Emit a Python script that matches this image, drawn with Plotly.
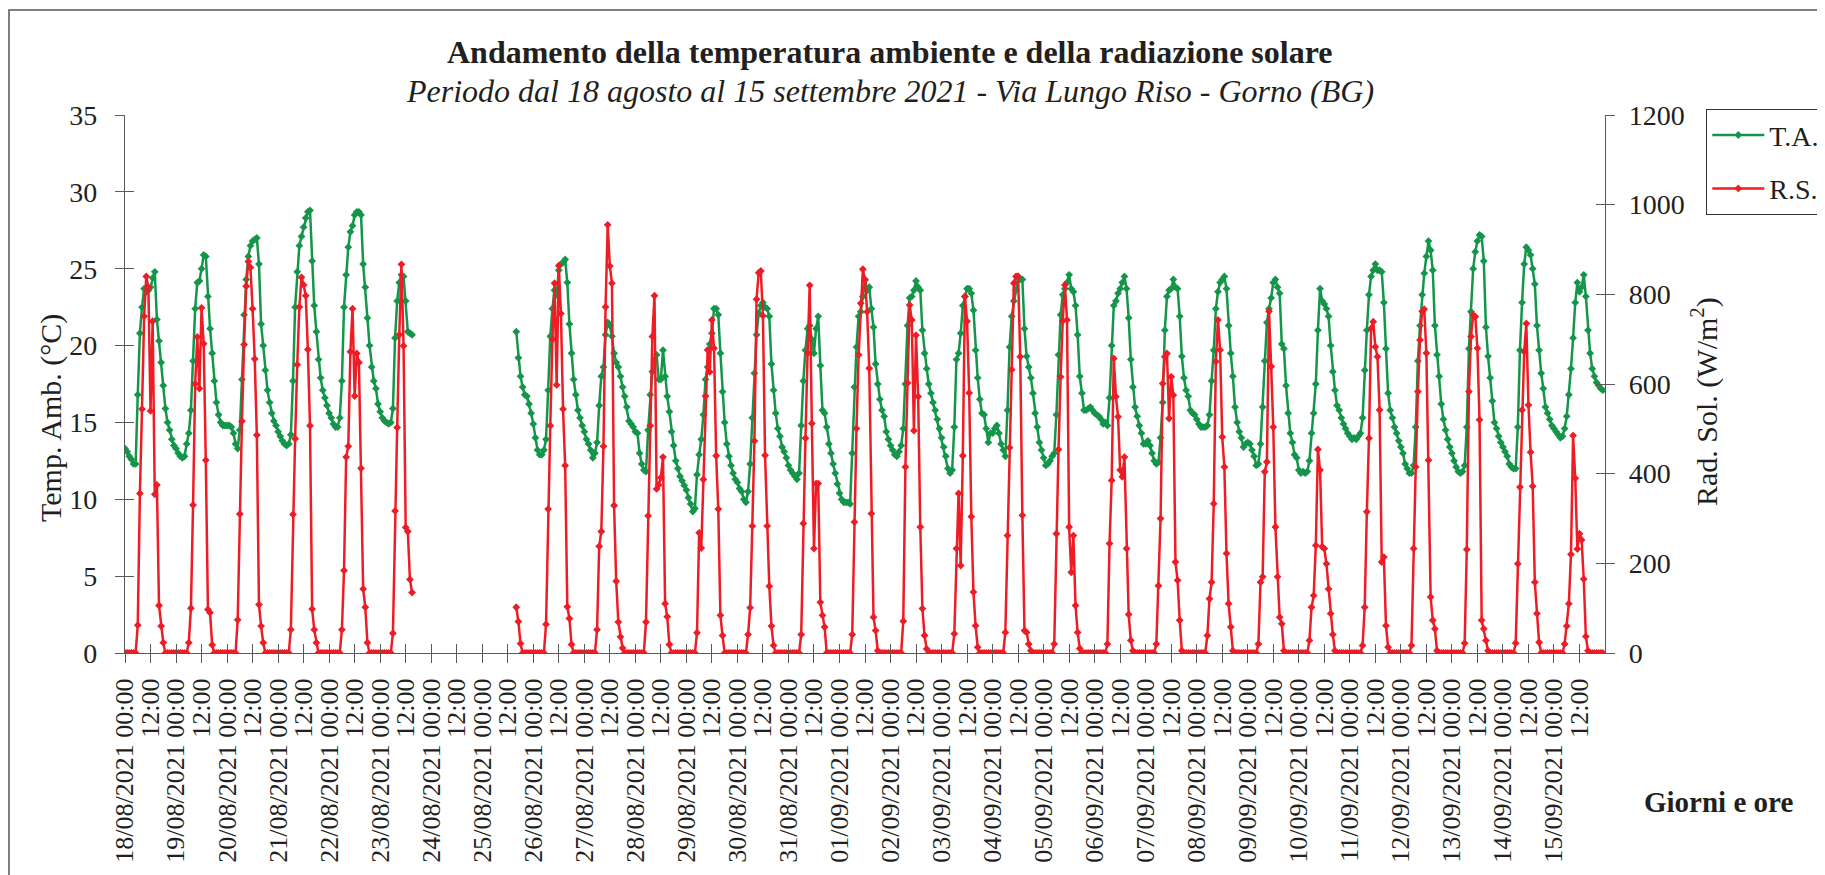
import pandas as pd
import plotly.graph_objects as go

# ---------------- DATA (hourly values) ----------------
# T.A. = temperatura ambiente (°C), R.S. = radiazione solare (W/m2)
t_0818 = [13.3, 13.1, 12.8, 12.6, 12.3, 12.3, 16.8, 20.8, 22.5, 23.7, 23.5, 23.6, 23.8, 24.4, 24.8, 21.7, 20.3, 18.9, 17.4, 15.9, 15.0, 14.5, 13.9, 13.5]
r_0818 = [0, 0, 0, 0, 0, 0, 62, 356, 544, 751, 840, 815, 540, 740, 354, 375, 106, 60, 23, 0, 0, 0, 0, 0]
t_0819 = [13.3, 13.0, 12.8, 12.7, 12.8, 13.6, 14.3, 15.8, 19.0, 22.4, 24.1, 24.2, 25.0, 25.9, 25.8, 23.2, 21.1, 19.5, 17.7, 16.3, 15.5, 15.0, 14.8, 14.8]
r_0819 = [0, 0, 0, 0, 0, 0, 23, 100, 330, 600, 705, 590, 770, 690, 430, 97, 90, 18, 0, 0, 0, 0, 0, 0]
t_0820 = [14.8, 14.8, 14.7, 14.3, 13.6, 13.3, 14.5, 17.8, 22.0, 24.3, 25.8, 26.5, 26.8, 26.9, 27.0, 25.3, 21.4, 20.0, 18.4, 17.1, 16.3, 15.6, 15.1, 14.8]
r_0820 = [0, 0, 0, 0, 0, 74, 310, 517, 688, 818, 873, 860, 768, 656, 486, 108, 60, 23, 0, 0, 0, 0, 0, 0]
t_0821 = [14.4, 14.1, 13.8, 13.6, 13.5, 13.6, 14.2, 17.7, 22.5, 24.8, 26.5, 27.1, 27.7, 28.3, 28.7, 28.8, 25.5, 22.6, 20.9, 19.1, 17.9, 17.1, 16.6, 16.1]
r_0821 = [0, 0, 0, 0, 0, 0, 52, 309, 478, 643, 772, 838, 821, 797, 677, 507, 98, 52, 23, 0, 0, 0, 0, 0]
t_0822 = [15.6, 15.3, 14.9, 14.7, 14.7, 15.3, 17.7, 22.5, 24.6, 26.4, 27.4, 27.8, 28.5, 28.7, 28.7, 28.5, 25.3, 23.8, 21.8, 20.0, 18.6, 17.7, 17.2, 16.2]
r_0822 = [0, 0, 0, 0, 0, 0, 52, 184, 437, 461, 672, 768, 573, 668, 648, 412, 143, 102, 23, 0, 0, 0, 0, 0]
t_0823 = [15.7, 15.3, 15.1, 15.0, 14.9, 15.0, 15.9, 20.5, 22.9, 24.1, 24.6, 24.5, 22.9, 20.9, 20.8, 20.7]   # 00:00-15:00
r_0823 = [0, 0, 0, 0, 0, 0, 44, 317, 503, 710, 867, 685, 280, 271, 164, 135]
t_0825 = [20.9, 19.2, 18.0, 17.3, 16.8, 16.7, 16.2, 15.6]   # 16:00-23:00
r_0825 = [102, 70, 21, 0, 0, 0, 0, 0]
t_0826 = [14.9, 14.0, 13.2, 12.9, 12.9, 13.2, 13.9, 17.1, 20.6, 22.4, 23.6, 23.3, 24.9, 25.3, 25.4, 25.6, 24.1, 21.4, 19.5, 17.8, 16.8, 15.8, 15.3, 14.8]
r_0826 = [0, 0, 0, 0, 0, 0, 64, 321, 507, 700, 825, 598, 864, 757, 544, 418, 103, 77, 19, 0, 0, 0, 0, 0]
t_0827 = [14.4, 13.9, 13.6, 13.2, 12.7, 13.0, 13.7, 16.1, 18.0, 18.6, 20.7, 21.5, 21.3, 20.6, 19.5, 18.9, 18.6, 18.0, 17.3, 16.7, 16.0, 15.1, 14.9, 14.7]
r_0827 = [0, 0, 0, 0, 0, 0, 52, 238, 271, 461, 772, 955, 863, 825, 329, 160, 69, 36, 11, 0, 0, 0, 0, 0]
t_0828 = [14.4, 14.3, 13.0, 12.3, 11.9, 11.8, 14.5, 16.8, 18.3, 19.1, 19.4, 17.8, 17.8, 19.7, 18.0, 16.7, 15.7, 14.4, 13.5, 12.5, 12.0, 11.5, 11.2, 10.9]
r_0828 = [0, 0, 0, 0, 0, 69, 306, 507, 706, 797, 366, 375, 391, 437, 110, 81, 19, 0, 0, 0, 0, 0, 0, 0]
t_0829 = [10.6, 10.1, 9.7, 9.2, 9.4, 11.6, 12.9, 13.9, 15.5, 17.8, 18.6, 20.1, 20.8, 22.4, 22.4, 22.0, 19.5, 17.0, 15.0, 13.6, 12.8, 12.2, 11.7, 11.3]
r_0829 = [0, 0, 0, 0, 0, 45, 268, 234, 387, 573, 676, 627, 743, 680, 440, 321, 84, 39, 0, 0, 0, 0, 0, 0]
t_0830 = [11.1, 10.7, 10.5, 10.0, 9.8, 10.5, 12.3, 15.3, 18.2, 20.7, 22.1, 22.6, 22.8, 22.5, 22.4, 21.9, 18.8, 17.1, 15.6, 14.6, 14.1, 13.4, 13.1, 12.7]
r_0830 = [0, 0, 0, 0, 0, 41, 101, 283, 473, 789, 848, 852, 752, 441, 283, 149, 60, 17, 0, 0, 0, 0, 0, 0]
t_0831 = [12.2, 11.9, 11.7, 11.5, 11.3, 11.7, 14.8, 17.7, 19.7, 21.1, 21.3, 20.4, 19.5, 21.1, 21.9, 18.7, 15.8, 15.6, 14.7, 13.6, 13.0, 12.3, 11.7, 11.0]
r_0831 = [0, 0, 0, 0, 0, 0, 41, 289, 479, 669, 820, 512, 233, 378, 378, 113, 84, 58, 0, 0, 0, 0, 0, 0]
t_0901 = [10.4, 10.0, 9.8, 9.8, 9.8, 9.7, 13.0, 17.3, 19.9, 21.9, 22.2, 23.2, 24.3, 23.6, 23.8, 22.4, 21.2, 18.8, 17.5, 16.5, 15.8, 15.4, 14.4, 13.9]
r_0901 = [0, 0, 0, 0, 0, 0, 41, 292, 501, 665, 780, 856, 832, 761, 635, 311, 80, 50, 5, 0, 0, 0, 0, 0]
t_0902 = [13.5, 13.2, 12.9, 12.8, 13.1, 13.5, 14.6, 17.5, 21.3, 23.1, 23.2, 23.6, 24.2, 23.8, 23.6, 21.0, 19.5, 18.5, 17.5, 16.9, 16.3, 15.8, 15.2, 14.6]
r_0902 = [0, 0, 0, 0, 0, 0, 71, 415, 602, 776, 743, 496, 709, 572, 281, 99, 39, 9, 0, 0, 0, 0, 0, 0]
t_0903 = [14.0, 13.4, 12.8, 12.0, 11.7, 11.9, 14.7, 19.1, 19.5, 20.8, 22.6, 23.2, 23.7, 23.7, 23.4, 22.3, 19.7, 17.9, 16.5, 15.6, 15.5, 14.6, 13.7, 14.3]
r_0903 = [0, 0, 0, 0, 0, 0, 43, 233, 356, 195, 440, 795, 740, 580, 304, 136, 61, 13, 0, 0, 0, 0, 0, 0]
t_0904 = [14.3, 14.6, 14.8, 14.3, 13.6, 13.2, 12.8, 15.8, 19.9, 21.9, 22.9, 23.6, 24.5, 24.3, 24.3, 21.1, 19.3, 18.6, 17.9, 16.9, 15.6, 14.7, 13.7, 13.2]
r_0904 = [0, 0, 0, 0, 0, 0, 46, 262, 458, 632, 825, 840, 840, 661, 307, 50, 46, 20, 5, 0, 0, 0, 0, 0]
t_0905 = [12.7, 12.2, 12.3, 12.5, 12.8, 13.0, 15.5, 19.4, 22.0, 23.3, 23.7, 24.1, 24.6, 23.7, 23.5, 22.6, 20.7, 18.0, 16.9, 15.8, 15.8, 15.9, 16.0, 15.8]
r_0905 = [0, 0, 0, 0, 0, 20, 266, 454, 616, 741, 821, 743, 281, 180, 262, 106, 46, 10, 0, 0, 0, 0, 0, 0]
t_0906 = [15.6, 15.5, 15.4, 15.2, 14.9, 15.0, 14.8, 16.6, 20.0, 22.6, 22.9, 23.4, 23.7, 24.1, 24.5, 23.7, 21.8, 19.1, 17.3, 16.0, 15.4, 14.8, 14.3, 13.6]
r_0906 = [0, 0, 0, 0, 0, 0, 20, 244, 385, 657, 572, 527, 408, 393, 437, 233, 86, 28, 5, 0, 0, 0, 0, 0]
t_0907 = [13.6, 13.8, 13.5, 13.0, 12.5, 12.3, 12.4, 14.0, 16.3, 21.0, 23.2, 23.6, 23.7, 24.3, 23.8, 23.7, 21.9, 19.3, 17.9, 17.1, 16.7, 15.8, 15.6, 15.5]
r_0907 = [0, 0, 0, 0, 0, 20, 150, 300, 601, 661, 668, 523, 616, 575, 203, 162, 73, 5, 0, 0, 0, 0, 0, 0]
t_0908 = [15.2, 14.9, 14.7, 14.7, 14.7, 14.8, 15.5, 17.7, 19.7, 22.4, 23.5, 24.1, 24.3, 24.5, 23.7, 21.3, 19.5, 18.0, 16.0, 15.0, 14.4, 14.0, 13.4, 13.6]
r_0908 = [0, 0, 0, 0, 0, 39, 121, 158, 333, 650, 743, 676, 482, 415, 222, 110, 58, 5, 0, 0, 0, 0, 0, 0]
t_0909 = [13.7, 13.6, 13.2, 12.8, 12.2, 12.3, 13.6, 16.0, 19.0, 21.5, 22.4, 23.1, 24.1, 24.3, 23.8, 23.4, 20.1, 19.8, 17.4, 15.6, 14.3, 13.7, 12.9, 12.7]
r_0909 = [0, 0, 0, 0, 0, 20, 158, 170, 404, 426, 762, 639, 504, 281, 170, 80, 65, 5, 0, 0, 0, 0, 0, 0]
t_0910 = [11.9, 11.7, 11.8, 11.7, 11.8, 12.5, 14.3, 15.6, 17.5, 21.0, 23.7, 22.9, 22.7, 22.4, 21.9, 20.0, 18.3, 17.1, 16.1, 15.8, 15.3, 14.9, 14.6, 14.3]
r_0910 = [0, 0, 0, 0, 0, 28, 102, 128, 240, 454, 408, 237, 233, 199, 143, 88, 41, 5, 0, 0, 0, 0, 0, 0]
t_0911 = [14.1, 13.9, 14.0, 13.9, 14.1, 14.3, 15.3, 18.4, 21.0, 23.3, 24.5, 24.9, 25.3, 24.9, 24.9, 24.8, 22.8, 19.8, 16.9, 15.8, 15.3, 14.7, 14.3, 13.8]
r_0911 = [0, 0, 0, 0, 0, 0, 17, 102, 315, 479, 724, 739, 683, 661, 542, 203, 214, 61, 13, 0, 0, 0, 0, 0]
t_0912 = [13.4, 13.0, 12.3, 12.0, 11.7, 11.7, 12.2, 14.7, 19.0, 21.3, 23.3, 24.7, 25.8, 26.8, 26.2, 24.9, 21.3, 19.4, 18.0, 16.2, 15.2, 14.5, 13.9, 13.4]
r_0912 = [0, 0, 0, 0, 0, 17, 233, 415, 583, 698, 762, 767, 669, 430, 125, 73, 54, 5, 0, 0, 0, 0, 0, 0]
t_0913 = [13.0, 12.5, 12.1, 11.8, 11.7, 11.8, 12.2, 14.7, 19.8, 22.2, 25.0, 26.1, 26.8, 27.2, 27.1, 25.5, 21.2, 19.3, 17.9, 16.4, 15.0, 14.6, 14.1, 13.7]
r_0913 = [0, 0, 0, 0, 0, 0, 22, 231, 583, 706, 754, 750, 680, 520, 73, 54, 28, 5, 0, 0, 0, 0, 0, 0]
t_0914 = [13.4, 13.1, 12.8, 12.3, 12.1, 12.0, 12.0, 14.7, 19.7, 22.8, 25.3, 26.4, 26.2, 25.9, 25.0, 24.0, 21.3, 19.7, 18.2, 17.2, 16.0, 15.6, 15.2, 14.8]
r_0914 = [0, 0, 0, 0, 0, 0, 22, 199, 370, 542, 672, 735, 553, 448, 372, 158, 88, 24, 0, 0, 0, 0, 0, 0]
t_0915 = [14.6, 14.4, 14.2, 14.0, 14.1, 14.6, 15.4, 16.8, 18.5, 20.5, 22.8, 24.1, 23.5, 23.8, 24.6, 23.2, 21.0, 19.5, 18.5, 18.0, 17.6, 17.4, 17.2, 17.1]
r_0915 = [0, 0, 0, 0, 0, 20, 60, 110, 220, 485, 390, 232, 266, 252, 165, 37, 5, 0, 0, 0, 0, 0, 0, 0]

# (day, first hour, temperature list, radiation list)
days = [
    ("2021-08-18", 0, t_0818, r_0818), ("2021-08-19", 0, t_0819, r_0819),
    ("2021-08-20", 0, t_0820, r_0820), ("2021-08-21", 0, t_0821, r_0821),
    ("2021-08-22", 0, t_0822, r_0822), ("2021-08-23", 0, t_0823, r_0823),
    ("2021-08-25", 16, t_0825, r_0825), ("2021-08-26", 0, t_0826, r_0826),
    ("2021-08-27", 0, t_0827, r_0827), ("2021-08-28", 0, t_0828, r_0828),
    ("2021-08-29", 0, t_0829, r_0829), ("2021-08-30", 0, t_0830, r_0830),
    ("2021-08-31", 0, t_0831, r_0831), ("2021-09-01", 0, t_0901, r_0901),
    ("2021-09-02", 0, t_0902, r_0902), ("2021-09-03", 0, t_0903, r_0903),
    ("2021-09-04", 0, t_0904, r_0904), ("2021-09-05", 0, t_0905, r_0905),
    ("2021-09-06", 0, t_0906, r_0906), ("2021-09-07", 0, t_0907, r_0907),
    ("2021-09-08", 0, t_0908, r_0908), ("2021-09-09", 0, t_0909, r_0909),
    ("2021-09-10", 0, t_0910, r_0910), ("2021-09-11", 0, t_0911, r_0911),
    ("2021-09-12", 0, t_0912, r_0912), ("2021-09-13", 0, t_0913, r_0913),
    ("2021-09-14", 0, t_0914, r_0914), ("2021-09-15", 0, t_0915, r_0915),
]

xs, ta, rs = [], [], []
prev = None
for day, start, tv, rv in days:
    base = pd.Timestamp(day)
    for i, (t, r) in enumerate(zip(tv, rv)):
        ts = base + pd.Timedelta(hours=start + i)
        if prev is not None and ts - prev > pd.Timedelta(hours=1):
            # missing data: break the lines
            xs.append((prev + pd.Timedelta(hours=1)).strftime("%Y-%m-%d %H:%M"))
            ta.append(None)
            rs.append(None)
        xs.append(ts.strftime("%Y-%m-%d %H:%M"))
        ta.append(t)
        rs.append(r)
        prev = ts

tick_times = pd.date_range("2021-08-18 00:00", "2021-09-15 12:00", freq="12h")
tick_vals = [d.strftime("%Y-%m-%d %H:%M") for d in tick_times]
tick_text = [f"{d:%d/%m/%Y} 00:00" if d.hour == 0 else "12:00" for d in tick_times]
x_range = ["2021-08-18 00:00", "2021-09-16 00:00"]

# ---------------- FIGURE ----------------
GREEN = "#14964a"
RED = "#ee1c25"
AXC = "#595959"
TXT = "#231f20"
FONT = "Liberation Serif, Times New Roman, serif"

fig = go.Figure()
fig.add_trace(go.Scatter(
    x=xs, y=ta, name="T.A.", mode="lines+markers", yaxis="y",
    line=dict(color=GREEN, width=2.5),
    marker=dict(symbol="diamond", size=6, color=GREEN),
    legendgroup="a",
))
fig.add_trace(go.Scatter(
    x=xs, y=rs, name="R.S.", mode="lines+markers", yaxis="y2",
    line=dict(color=RED, width=2.5),
    marker=dict(symbol="diamond", size=6, color=RED),
    legendgroup="b",
))
# empty traces that carry the inner halves of the crossing tick marks
fig.add_trace(go.Scatter(x=[None], y=[None], xaxis="x2", yaxis="y3",
                         showlegend=False, hoverinfo="skip"))
fig.add_trace(go.Scatter(x=[None], y=[None], xaxis="x", yaxis="y4",
                         showlegend=False, hoverinfo="skip"))

# the page body adds an 8px margin: lay out in page pixels minus that offset
OFF = 8
W, H = 1825 - OFF, 875 - OFF
ML, MT = 125 - OFF, 115 - OFF
MR = W - (1605 - OFF)
MB = H - (653 - OFF)
PW, PH = W - ML - MR, H - MT - MB


def px(xp):
    return (xp - OFF - ML) / PW


def py(yp):
    return (H - MB - (yp - OFF)) / PH


tick_common = dict(showgrid=False, zeroline=False, tickcolor=AXC, tickwidth=1.3, ticklen=9)

fig.update_layout(
    width=W, height=H,
    margin=dict(l=ML, r=MR, t=MT, b=MB, autoexpand=False),
    paper_bgcolor="white", plot_bgcolor="white",
    font=dict(family=FONT, color=TXT, size=28),
    showlegend=True,
    legend=dict(
        x=px(1706), y=py(109), xanchor="left", yanchor="top",
        bordercolor="#333333", borderwidth=1.3, bgcolor="white",
        font=dict(family=FONT, size=28, color=TXT),
        itemwidth=52, traceorder="grouped", tracegroupgap=14,
    ),
    xaxis=dict(
        type="date", range=x_range, tickmode="array",
        tickvals=tick_vals, ticktext=tick_text, tickangle=-90,
        ticks="outside", showline=True, linecolor=AXC, linewidth=1.3,
        tickfont=dict(family=FONT, size=26, color=TXT),
        ticklabelstandoff=5, anchor="y", **tick_common,
    ),
    xaxis2=dict(
        type="date", range=x_range, tickmode="array", tickvals=tick_vals,
        overlaying="x", anchor="y", side="bottom", ticks="inside",
        showticklabels=False, showline=False, **tick_common,
    ),
    yaxis=dict(
        range=[0, 35], tickmode="linear", tick0=0, dtick=5,
        ticks="outside", showline=True, linecolor=AXC, linewidth=1.3,
        tickfont=dict(family=FONT, size=28, color=TXT),
        ticklabelstandoff=12, anchor="x", **tick_common,
    ),
    yaxis2=dict(
        range=[0, 1200], tickmode="linear", tick0=0, dtick=200,
        overlaying="y", side="right", anchor="x",
        ticks="outside", showline=True, linecolor=AXC, linewidth=1.3,
        tickfont=dict(family=FONT, size=28, color=TXT),
        ticklabelstandoff=8, **tick_common,
    ),
    yaxis3=dict(
        range=[0, 35], tickmode="linear", tick0=0, dtick=5,
        overlaying="y", side="left", anchor="x", ticks="inside",
        showticklabels=False, showline=False, **tick_common,
    ),
    yaxis4=dict(
        range=[0, 1200], tickmode="linear", tick0=0, dtick=200,
        overlaying="y", side="right", anchor="x", ticks="inside",
        showticklabels=False, showline=False, **tick_common,
    ),
    shapes=[dict(
        type="rect", xref="paper", yref="paper",
        x0=px(9), x1=px(1900), y0=py(10), y1=py(940),
        line=dict(color="#555555", width=1.5), fillcolor="rgba(0,0,0,0)",
        layer="below",
    )],
    annotations=[
        dict(text="<b>Andamento della temperatura ambiente e della radiazione solare</b>",
             x=px(890), y=py(52), xref="paper", yref="paper",
             xanchor="center", yanchor="middle", showarrow=False,
             font=dict(family=FONT, size=32, color=TXT)),
        dict(text="<i>Periodo dal 18 agosto al 15 settembre 2021 - Via Lungo Riso - Gorno (BG)</i>",
             x=px(890), y=py(91), xref="paper", yref="paper",
             xanchor="center", yanchor="middle", showarrow=False,
             font=dict(family=FONT, size=32, color=TXT)),
        dict(text="Temp. Amb. (°C)", textangle=-90,
             x=px(51), y=py(418), xref="paper", yref="paper",
             xanchor="center", yanchor="middle", showarrow=False,
             font=dict(family=FONT, size=30, color=TXT)),
        dict(text="Rad. Sol. (W/m<sup>2</sup>)", textangle=-90,
             x=px(1704), y=py(402), xref="paper", yref="paper",
             xanchor="center", yanchor="middle", showarrow=False,
             font=dict(family=FONT, size=30, color=TXT)),
        dict(text="<b>Giorni e ore</b>",
             x=px(1718), y=py(802), xref="paper", yref="paper",
             xanchor="center", yanchor="middle", showarrow=False,
             font=dict(family=FONT, size=29, color=TXT)),
    ],
)

fig.write_html("out.html")
